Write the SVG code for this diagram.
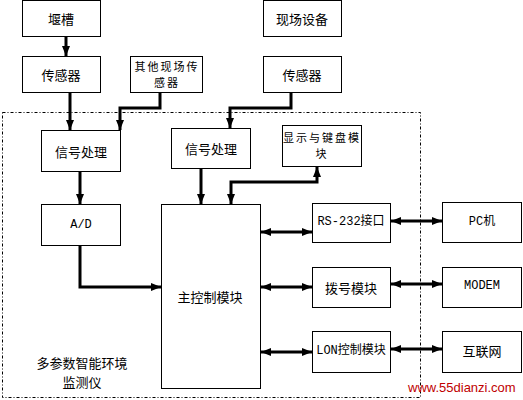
<svg xmlns="http://www.w3.org/2000/svg" width="523" height="400" viewBox="0 0 523 400">
<style>
.box{fill:#fff;stroke:#000;stroke-width:1}
.t{font-family:"Noto Sans CJK SC","Liberation Sans",sans-serif;font-size:13px;fill:#000;text-anchor:middle;dominant-baseline:central}
.s{font-size:11px;letter-spacing:2px}
.m{font-family:"Liberation Mono","Noto Sans CJK SC",monospace;font-size:12px;fill:#000;text-anchor:middle;dominant-baseline:central}
.c{fill:none;stroke:#000;stroke-width:3}
.one{marker-end:url(#ah)}
.two{marker-end:url(#ah);marker-start:url(#ah)}
</style>
<defs>
<marker id="ah" markerUnits="userSpaceOnUse" markerWidth="11" markerHeight="9" refX="10" refY="4.5" orient="auto-start-reverse" viewBox="0 0 11 9">
<path d="M0,0.5 L10,4.5 L0,8.5 z" fill="#000"/>
</marker>
</defs>
<rect x="0" y="0" width="523" height="400" fill="#fff"/>
<rect x="2.5" y="112.5" width="418" height="285" fill="none" stroke="#000" stroke-width="1" stroke-dasharray="3 2 1 2"/>
<g id="label-system"><text class="t" x="82" y="362" font-size="12">多参数智能环境</text><text class="t" x="82" y="381" font-size="12">监测仪</text></g>
<g id="n-weir"><rect class="box" x="22.5" y="0.5" width="78" height="36"/><text class="t" x="61" y="18">堰槽</text></g>
<g id="n-sensor1"><rect class="box" x="22.5" y="56.5" width="78" height="36"/><text class="t" x="61" y="74">传感器</text></g>
<g id="n-othersensor"><rect class="box" x="130.5" y="56.5" width="72" height="36"/><text class="t s" x="167" y="66">其他现场传</text><text class="t s" x="167" y="82">感器</text></g>
<g id="n-field"><rect class="box" x="263.5" y="0.5" width="78" height="36"/><text class="t" x="302" y="18">现场设备</text></g>
<g id="n-sensor2"><rect class="box" x="263.5" y="56.5" width="78" height="36"/><text class="t" x="302" y="74">传感器</text></g>
<g id="n-sig1"><rect class="box" x="41.5" y="130.5" width="79" height="41"/><text class="t" x="81" y="151">信号处理</text></g>
<g id="n-sig2"><rect class="box" x="171.5" y="128.5" width="79" height="40"/><text class="t" x="211" y="148">信号处理</text></g>
<g id="n-display"><rect class="box" x="282.5" y="125.5" width="79" height="41"/><text class="t s" x="322" y="137">显示与键盘模</text><text class="t s" x="322" y="153">块</text></g>
<g id="n-ad"><rect class="box" x="41.5" y="204.5" width="79" height="41"/><text class="m" x="81" y="225">A/D</text></g>
<g id="n-main"><rect class="box" x="161.5" y="204.5" width="99" height="184"/><text class="t" x="210" y="296">主控制模块</text></g>
<g id="n-rs232"><rect class="box" x="312.5" y="203.5" width="78" height="39"/><text class="m" x="351" y="222">RS-232接口</text></g>
<g id="n-dial"><rect class="box" x="312.5" y="267.5" width="78" height="40"/><text class="t" x="351" y="287">拨号模块</text></g>
<g id="n-lon"><rect class="box" x="312.5" y="331.5" width="78" height="41"/><text class="m" x="351" y="351">LON控制模块</text></g>
<g id="n-pc"><rect class="box" x="442.5" y="202.5" width="79" height="40"/><text class="m" x="482" y="222">PC机</text></g>
<g id="n-modem"><rect class="box" x="442.5" y="267.5" width="79" height="40"/><text class="m" x="482" y="286">MODEM</text></g>
<g id="n-internet"><rect class="box" x="442.5" y="331.5" width="79" height="41"/><text class="t" x="482" y="350">互联网</text></g>
<g id="connectors">
<path class="c one" d="M66,37 V56"/>
<path class="c one" d="M70,93 V130"/>
<path class="c one" d="M160,93 V108 H120 V130"/>
<path class="c one" d="M291,93 V108 H230 V128"/>
<path class="c one" d="M201,169 V204"/>
<path class="c two" d="M231,204 V182 H317 V167"/>
<path class="c one" d="M80,172 V204"/>
<path class="c one" d="M80,246 V287 H161"/>
<path class="c two" d="M261,232 H312"/>
<path class="c two" d="M391,221 H442"/>
<path class="c two" d="M261,287 H312"/>
<path class="c two" d="M391,284 H442"/>
<path class="c two" d="M261,352 H312"/>
<path class="c two" d="M391,349 H442"/>
</g>
<text x="408" y="392" font-family="Liberation Sans, sans-serif" font-size="13" fill="#c00000">www.55dianzi.com</text>
</svg>
